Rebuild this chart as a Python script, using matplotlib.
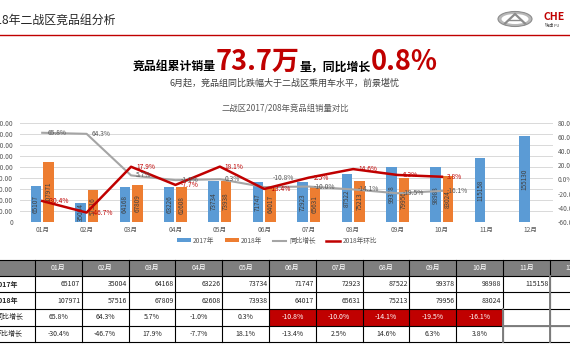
import numpy as np
import matplotlib

matplotlib.use("Agg")
import matplotlib.pyplot as plt
from matplotlib.patches import Rectangle, Ellipse
from matplotlib.lines import Line2D

plt.rcParams["font.family"] = ["Noto Sans CJK SC", "DejaVu Sans"]

# --- data ---
months = [f"{m:02d}月" for m in range(1, 13)]
sales_2017 = [65107, 35004, 64168, 63226, 73734, 71747, 72923, 87522, 99378, 98988, 115158, 155130]
sales_2018 = [107971, 57516, 67809, 62608, 73938, 64017, 65631, 75213, 79956, 83024]
yoy = [65.8, 64.3, 5.7, -1.0, 0.3, -10.8, -10.0, -14.1, -19.5, -16.1]
mom = [-30.4, -46.7, 17.9, -7.7, 18.1, -13.4, 2.5, 14.6, 6.3, 3.8]
row_labels = ["2017年", "2018年", "同比增长", "环比增长"]

BLUE, ORANGE, GRAY, RED = "#5B9BD5", "#ED7D31", "#A5A5A5", "#C00000"
W, H = 570, 360

fig = plt.figure(figsize=(W / 100, H / 100), dpi=100)

# background axes in pixel coordinates for slide text, logo and table
bg = fig.add_axes([0, 0, 1, 1])
bg.set_xlim(0, W)
bg.set_ylim(H, 0)
bg.axis("off")

# header
bg.text(116, 20, "2018年二战区竞品组分析", ha="right", va="center", fontsize=8.6, color="#262626")
bg.plot([0, W], [35, 35], color=RED, lw=1.0)
bg.add_patch(Ellipse((515, 19), 34, 15, fc="#B8B8B8", ec="#8C8C8C", lw=0.8))
bg.add_patch(Ellipse((515, 19), 27, 10, fc="white", ec="none"))
bg.plot([505, 515, 525], [23.5, 14, 23.5], color="#8C8C8C", lw=1.6, solid_joinstyle="miter")
bg.plot([509, 521], [20, 20], color="#8C8C8C", lw=1.0)
bg.text(544, 17, "CHE", ha="left", va="center", fontsize=7.5, color=RED, fontweight="bold")
bg.text(545, 25.5, "瑞虎 FU", ha="left", va="center", fontsize=3, color="#404040")

# headline
base = 70
bg.text(133, base, "竞品组累计销量", ha="left", va="baseline", fontsize=8.6, fontweight="bold", color="black")
bg.text(216, base, "73.7万", ha="left", va="baseline", fontsize=19.5, fontweight="bold", color=RED)
bg.text(300, base, "量，同比增长", ha="left", va="baseline", fontsize=8.6, fontweight="bold", color="black")
bg.text(371, base, "0.8%", ha="left", va="baseline", fontsize=19.5, fontweight="bold", color=RED)
bg.text(284.5, 83, "6月起，竞品组同比跌幅大于二战区乘用车水平，前景堪忧",
        ha="center", va="center", fontsize=6.5, color="#404040")
bg.text(285, 108, "二战区2017/208年竞品组销量对比", ha="center", va="center",
        fontsize=6, color="#595959")

# --- chart ---
ax = fig.add_axes([20 / W, 1 - 222 / H, 533 / W, 99.3 / H])
ax.patch.set_alpha(0)
x = np.arange(len(months))
w, off = 0.236, 0.14
ax.bar(x - off, sales_2017, w, color=BLUE, zorder=2)
ax.bar(x[: len(sales_2018)] + off, sales_2018, w, color=ORANGE, zorder=2)
for xi, v in zip(x - off, sales_2017):
    ax.text(xi, v / 2, str(v), rotation=90, ha="center", va="center", fontsize=4.6, color="#404040", zorder=3)
for xi, v in zip(x[: len(sales_2018)] + off, sales_2018):
    ax.text(xi, v / 2, str(v), rotation=90, ha="center", va="center", fontsize=4.6, color="#404040", zorder=3)

ax.set_xlim(-0.5, 11.5)
ax.set_ylim(0, 180000)
yt = list(range(0, 180001, 20000))
ax.set_yticks(yt)
ax.set_yticklabels(["0" if v == 0 else f"{v}.00" for v in yt])
ax.set_xticks(x)
ax.set_xticklabels(months)
ax.yaxis.grid(True, color="#D9D9D9", lw=0.7)
ax.set_axisbelow(True)
ax.tick_params(axis="both", length=0, labelsize=4.8, colors="#595959")
ax.tick_params(axis="y", pad=5)
ax.tick_params(axis="x", pad=3)
for s in ax.spines.values():
    s.set_visible(False)

ax2 = ax.twinx()
ax2.set_ylim(-60, 80)
rt = list(range(-60, 81, 20))
ax2.set_yticks(rt)
ax2.set_yticklabels([f"{v:.1f}%" for v in rt])
ax2.tick_params(axis="y", length=0, labelsize=4.8, colors="#595959", pad=3.5)
for s in ax2.spines.values():
    s.set_visible(False)
xl = x[: len(yoy)]
ax2.plot(xl, yoy, color=GRAY, lw=1.5)
ax2.plot(xl, mom, color=RED, lw=1.8)
gray_shift = {5: (8, 9)}
for i, v in enumerate(yoy):
    dx, dy = gray_shift.get(i, (5, 0))
    ax2.annotate(f"{v:.1f}%", (xl[i], v), xytext=(dx, dy), textcoords="offset pixels",
                 ha="left", va="center", fontsize=4.8, color="#595959")
for i, v in enumerate(mom):
    ax2.annotate(f"{v:.1f}%", (xl[i], v), xytext=(5, 0), textcoords="offset pixels",
                 ha="left", va="center", fontsize=4.8, color=RED)

handles = [Rectangle((0, 0), 1, 1, fc=BLUE), Rectangle((0, 0), 1, 1, fc=ORANGE),
           Line2D([], [], color=GRAY, lw=1.5), Line2D([], [], color=RED, lw=1.8)]
fig.legend(handles, ["2017年", "2018年", "同比增长", "2018年环比"], loc="center",
           bbox_to_anchor=(277 / W, 1 - 240.7 / H), ncol=4, frameon=False, fontsize=4.8,
           handlelength=2.0, handleheight=0.5, columnspacing=1.6, handletextpad=0.4,
           labelcolor="#595959")

# --- table ---
col_x0, col_w = 35, 46.8
row_y = [260, 275.7, 292.3, 309, 325.7, 342.3]
x_end = col_x0 + col_w * len(months)
bg.add_patch(Rectangle((-2, row_y[0]), x_end + 2, row_y[1] - row_y[0], fc="#7F7F7F", ec="none"))
for c, m in enumerate(months):
    bg.text(col_x0 + col_w * (c + 0.5), (row_y[0] + row_y[1]) / 2, m, ha="center", va="center",
            fontsize=5, color="white")

rows = [
    [str(v) for v in sales_2017],
    [str(v) for v in sales_2018],
    [f"{v:.1f}%" for v in yoy],
    [f"{v:.1f}%" for v in mom],
]
for r, (lab, vals) in enumerate(zip(row_labels, rows)):
    y0, y1 = row_y[r + 1], row_y[r + 2]
    yc = (y0 + y1) / 2
    bg.text(-5, yc, lab, ha="left", va="center", fontsize=5,
            fontweight="bold" if r < 2 else "normal", color="#262626")
    for c, s in enumerate(vals):
        cx0 = col_x0 + col_w * c
        if r < 2:
            bg.text(cx0 + col_w - 1.5, yc, s, ha="right", va="center", fontsize=5, color="#262626")
        else:
            alert = r == 2 and yoy[c] <= -10
            if alert:
                bg.add_patch(Rectangle((cx0, y0), col_w, y1 - y0, fc=RED, ec="none"))
            bg.text(cx0 + col_w / 2, yc, s, ha="center", va="center", fontsize=5,
                    color="white" if alert else "#262626")

for y in row_y:
    bg.plot([-2, W + 2], [y, y], color="black", lw=0.8)
for k in range(len(months) + 1):
    xk = col_x0 + col_w * k
    bg.plot([xk, xk], [row_y[0], row_y[-1]], color="black", lw=0.8)
# greyed borders on the empty 11-12月 cells
gx = col_x0 + col_w * 10
bg.plot([gx + col_w, gx + col_w], [row_y[1], row_y[-1]], color="#7F7F7F", lw=1.4)
bg.plot([gx, gx], [row_y[3], row_y[-1]], color="#7F7F7F", lw=1.4)
bg.plot([gx, W + 2], [row_y[4], row_y[4]], color="#7F7F7F", lw=1.4)

fig.savefig("out.png", dpi=100)
